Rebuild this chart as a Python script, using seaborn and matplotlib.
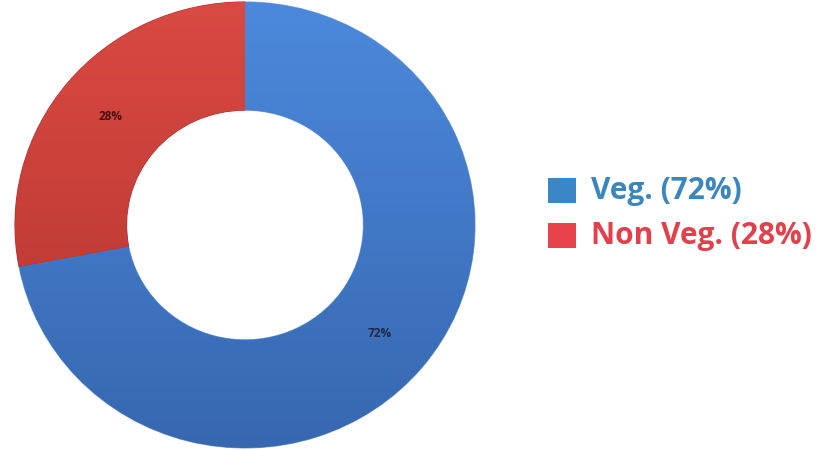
import numpy as np
import matplotlib
matplotlib.use("Agg")
import matplotlib.pyplot as plt
import matplotlib.patches as mpatches
from matplotlib.colors import LinearSegmentedColormap
import seaborn as sns

categories = ["Veg.", "Non Veg."]
shares = [72, 28]
slice_colors = ["#4379c9", "#cf3d3a"]
legend_colors = ["#3a86c6", "#e8434b"]
text_colors = ["#3b86bd", "#e3404c"]

sns.set_theme(style="white")
plt.rcParams["font.family"] = ["Open Sans", "DejaVu Sans"]

fig = plt.figure(figsize=(8.23, 4.5), dpi=100)
fig.patch.set_facecolor("white")
ax = fig.add_axes([15 / 823, 2 / 450, 460 / 823, 446 / 450])

wedges, _, autotexts = ax.pie(
    shares,
    colors=slice_colors,
    startangle=90,
    counterclock=False,
    radius=1.0,
    autopct=lambda p: f"{p:.0f}%",
    pctdistance=0.76,
    wedgeprops=dict(width=0.485, edgecolor="#7fa6e0", linewidth=0.8),
    textprops=dict(fontsize=8.5, fontweight="bold", color="#1f2a44"),
)
autotexts[1].set_color("#4a1010")
wedges[1].set_edgecolor("#a83030")

# vertical shading across each ring segment
shades = [("#4c89dc", "#3767b0"), ("#d84a42", "#b5322e")]
for w, (top, bottom) in zip(wedges, shades):
    cmap = LinearSegmentedColormap.from_list("shade", [bottom, top])
    grad = np.linspace(0, 1, 256).reshape(-1, 1)
    im = ax.imshow(grad, cmap=cmap, extent=[-1, 1, -1, 1], origin="lower",
                   aspect="auto", zorder=w.get_zorder() + 0.1)
    im.set_clip_path(w)

for t in autotexts:
    t.set_zorder(10)

ax.set_aspect("auto")
ax.set_xlim(-1.0, 1.0)
ax.set_ylim(-1.0, 1.0)
ax.axis("off")

# legend entries
rows_y = [191, 236]
for label, share, sq, tc, y in zip(categories, shares, legend_colors, text_colors, rows_y):
    fig.patches.append(mpatches.Rectangle(
        (548 / 823, 1 - (y + 12) / 450), 28 / 823, 25 / 450,
        transform=fig.transFigure, facecolor=sq, edgecolor="none"))
    fig.text(591 / 823, 1 - y / 450, f"{label} ({share}%)", color=tc,
             fontsize=21.5, fontweight="bold", va="center", ha="left")

fig.savefig("out.png", dpi=100)
